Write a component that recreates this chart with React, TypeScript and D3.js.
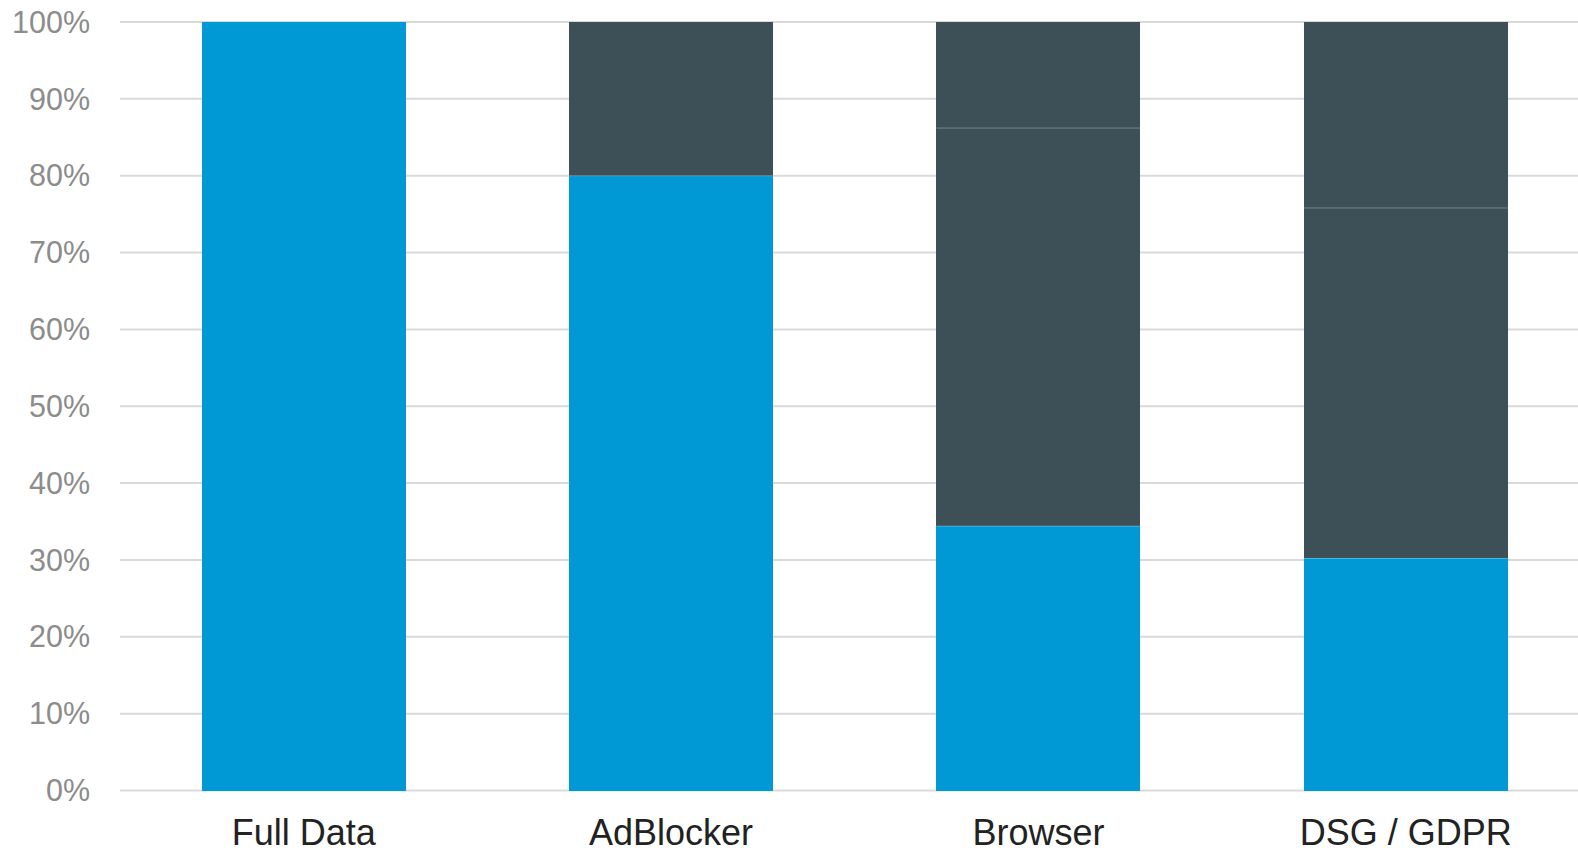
import React from "react";
import * as d3 from "d3";

const categories = ["Full Data", "AdBlocker", "Browser", "DSG / GDPR"];
const seriesKeys = ["s1", "s2", "s3", "s4"];
const seriesColors = ["#0099D5", "#3D4F57", "#3D4F57", "#3D4F57"];
const s1 = [100, 80, 34.4, 30.2];
const s2 = [0, 20, 51.8, 45.6];
const s3 = [0, 0, 13.8, 12.0];
const s4 = [0, 0, 0, 12.2];
const yTicks = [0, 10, 20, 30, 40, 50, 60, 70, 80, 90, 100];
const separatorLayers = ["s2", "s3"];

const W = 1578;
const H = 852;

export default function App() {
  const rows = categories.map((c, i) => ({ cat: c, s1: s1[i], s2: s2[i], s3: s3[i], s4: s4[i] }));
  const stack = d3.stack<any>().keys(seriesKeys)(rows);
  const x = d3.scaleBand<string>().domain(categories).range([120, 1589.5]).paddingInner(0.445).paddingOuter(0.2225);
  const y = d3.scaleLinear().domain([0, 100]).range([790.5, 22]);
  const font = "'Liberation Sans', Arial, sans-serif";
  return (
    <svg width={W} height={H} style={{ position: "absolute", left: 0, top: 0, background: "#fff" }}>
      {yTicks.map((t) => (
        <g key={t}>
          <line x1={120} x2={W} y1={y(t)} y2={y(t)} stroke="#D9D9D9" strokeWidth={2} />
          <text x={90} y={y(t)} dy="0.35em" textAnchor="end" fontFamily={font} fontSize={30.5} fill="#8C8C8C">
            {t}%
          </text>
        </g>
      ))}
      {stack.map((layer, si) => (
        <g key={si} fill={seriesColors[si]}>
          {layer.map((d, i) =>
            d[1] - d[0] > 0 ? (
              <rect
                key={i}
                x={x(categories[i])}
                width={x.bandwidth()}
                y={y(d[1])}
                height={y(d[0]) - y(d[1])}
                shapeRendering="crispEdges"
              />
            ) : null
          )}
        </g>
      ))}
      {stack
        .filter((layer) => separatorLayers.includes(layer.key))
        .map((layer) =>
          layer.map((d, i) =>
            d[1] - d[0] > 0 && d[0] > 0 ? (
              <line
                key={layer.key + i}
                x1={x(categories[i])}
                x2={(x(categories[i]) as number) + x.bandwidth()}
                y1={y(d[0])}
                y2={y(d[0])}
                stroke="rgba(255,255,255,0.3)"
                strokeWidth={1}
              />
            ) : null
          )
        )}
      {categories.map((c) => (
        <text key={c} x={(x(c) as number) + x.bandwidth() / 2} y={845} textAnchor="middle" fontFamily={font} fontSize={36} fill="#222">
          {c}
        </text>
      ))}
    </svg>
  );
}
